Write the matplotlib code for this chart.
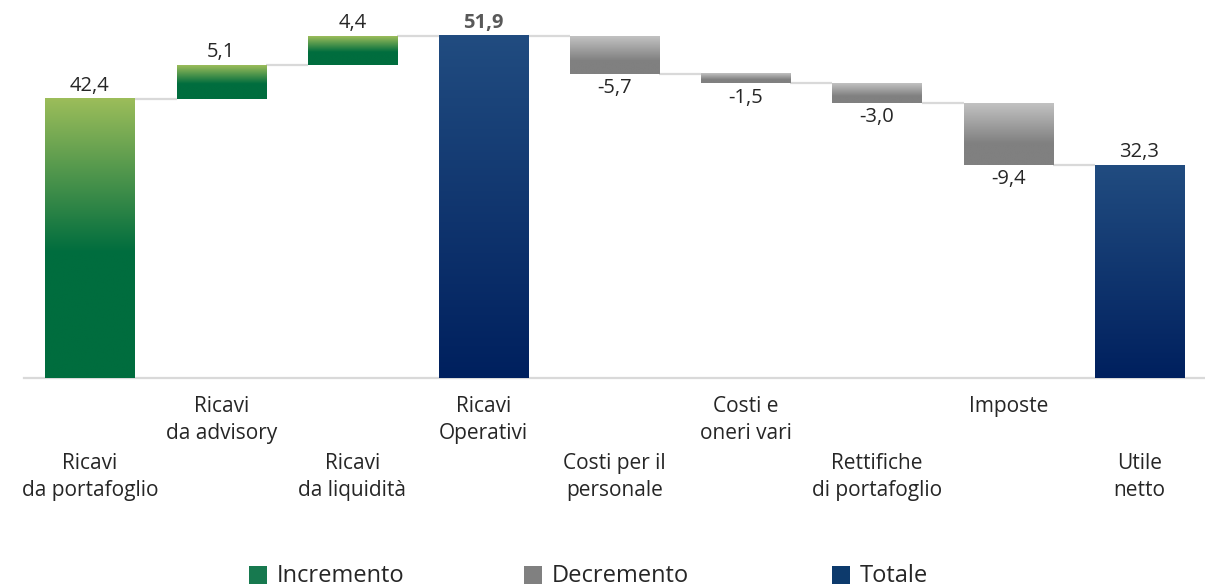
import numpy as np
import matplotlib
matplotlib.use("Agg")
import matplotlib.pyplot as plt
from matplotlib.patches import Rectangle
from matplotlib.colors import LinearSegmentedColormap

plt.rcParams['font.family'] = ['Open Sans', 'DejaVu Sans']

categories = ["Ricavi\nda portafoglio", "Ricavi\nda advisory", "Ricavi\nda liquidità",
              "Ricavi\nOperativi", "Costi per il\npersonale", "Costi e\noneri vari",
              "Rettifiche\ndi portafoglio", "Imposte", "Utile\nnetto"]
values = [42.4, 5.1, 4.4, 51.9, -5.7, -1.5, -3.0, -9.4, 32.3]
kinds = ["inc", "inc", "inc", "tot", "dec", "dec", "dec", "dec", "tot"]
value_labels = ["42,4", "5,1", "4,4", "51,9", "-5,7", "-1,5", "-3,0", "-9,4", "32,3"]
legend_labels = ["Incremento", "Decremento", "Totale"]
legend_colors = ["#17794f", "#808080", "#0d3a6c"]

W, H = 1205, 588
fig = plt.figure(figsize=(W / 100, H / 100), dpi=100)
ax_bottom_px = 378
ax = fig.add_axes([24.4 / W, (H - ax_bottom_px) / H, 1 - 24.4 / W, ax_bottom_px / H])
ax.set_xlim(-0.5, len(categories) - 0.5)
ax.set_ylim(0, ax_bottom_px / 6.59)
ax.axis('off')

bottoms, heights = [], []
running = 0.0
for v, k in zip(values, kinds):
    if k == "tot":
        bottoms.append(0.0)
        heights.append(v)
        running = v
    elif v >= 0:
        bottoms.append(running)
        heights.append(v)
        running += v
    else:
        bottoms.append(running + v)
        heights.append(-v)
        running += v

x = np.arange(len(categories))
bars = ax.bar(x, heights, bottom=bottoms, width=0.68, facecolor='none', edgecolor='none', zorder=3)

cmaps = {
    "inc": LinearSegmentedColormap.from_list("g", [(0, "#9cbd5a"), (0.55, "#006d3e"), (1, "#006d3e")]),
    "dec": LinearSegmentedColormap.from_list("k", [(0, "#c2c2c2"), (0.65, "#808080"), (1, "#808080")]),
    "tot": LinearSegmentedColormap.from_list("b", [(0, "#214c80"), (1, "#00205e")]),
}
grad = np.linspace(0, 1, 256).reshape(-1, 1)
for b, k in zip(bars, kinds):
    x0, y0, w, h = b.get_x(), b.get_y(), b.get_width(), b.get_height()
    ax.imshow(grad, cmap=cmaps[k], aspect='auto', extent=(x0, x0 + w, y0, y0 + h),
              origin='upper', zorder=3, interpolation='bilinear')

levels = []
running = 0.0
for v, k in zip(values, kinds):
    running = v if k == "tot" else running + v
    levels.append(running)
for i in range(len(values) - 1):
    b1, b2 = bars[i], bars[i + 1]
    ax.plot([b1.get_x() + b1.get_width(), b2.get_x()], [levels[i], levels[i]],
            color="#d9d9d9", lw=1.6, zorder=2, solid_capstyle='butt')

ax.plot([-0.5, len(categories) - 0.5], [0, 0], color="#d9d9d9", lw=1.6, zorder=2, clip_on=False)

for i, (b, v, lab, k) in enumerate(zip(bars, values, value_labels, kinds)):
    if v >= 0:
        ax.annotate(lab, (i, b.get_y() + b.get_height()), xytext=(0, 2), textcoords='offset points',
                    ha='center', va='bottom', fontsize=14.5,
                    color="#595959" if i == 3 else "#262626",
                    fontweight='bold' if i == 3 else 'normal')
    else:
        ax.annotate(lab, (i, b.get_y()), xytext=(0, -3), textcoords='offset points',
                    ha='center', va='top', fontsize=14.5, color="#262626")

tr = ax.get_xaxis_transform()
for i, c in enumerate(categories):
    top_px = 396 if i % 2 == 1 else 453
    yfrac = (ax_bottom_px - top_px) / ax_bottom_px
    ax.text(i, yfrac, c, transform=tr, ha='center', va='top', fontsize=15,
            color="#262626", linespacing=1.38, multialignment='center')

# legend (manual placement in figure pixels)
marker_x = [249, 524, 832]
for mx, lab, col in zip(marker_x, legend_labels, legend_colors):
    fig.add_artist(Rectangle((mx / W, 1 - 584 / H), 18 / W, 18 / H, transform=fig.transFigure,
                             facecolor=col, edgecolor='none'))
    fig.text((mx + 28) / W, 1 - 576 / H, lab, ha='left', va='center', fontsize=17, color="#262626")

fig.savefig("out.png", dpi=100)
